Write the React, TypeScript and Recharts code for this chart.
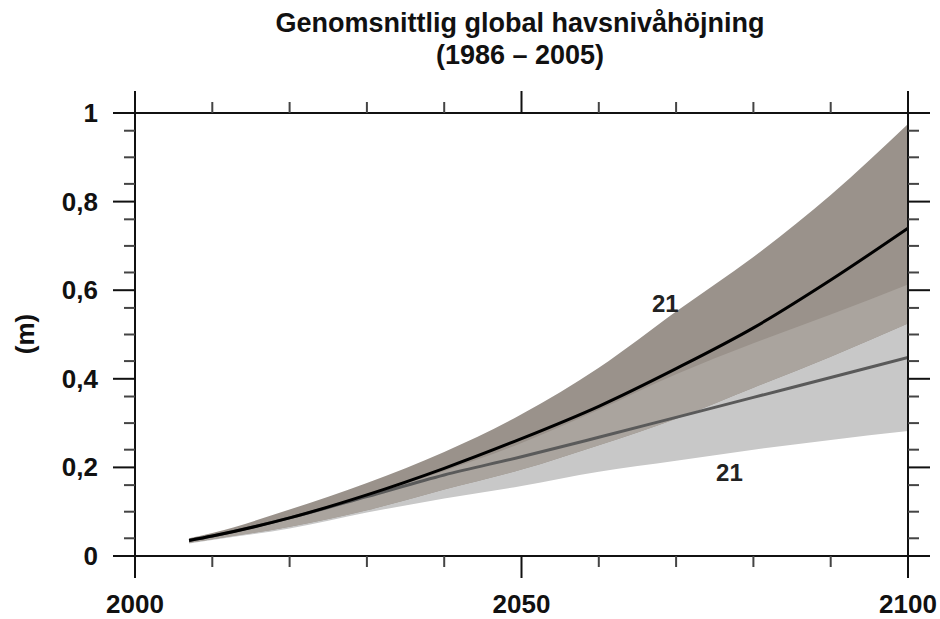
import React from 'react';
import { ComposedChart, Area, Line, XAxis, YAxis, ReferenceDot } from 'recharts';

// years and projected sea level rise (m), relative to 1986-2005
const years = [2007, 2010, 2020, 2030, 2040, 2050, 2060, 2070, 2080, 2090, 2100];
const rcp85Mean = [0.035, 0.045, 0.086, 0.138, 0.198, 0.265, 0.338, 0.423, 0.515, 0.623, 0.74];
const rcp85High = [0.04, 0.052, 0.105, 0.165, 0.235, 0.32, 0.425, 0.552, 0.675, 0.815, 0.975];
const rcp85Low = [0.03, 0.038, 0.066, 0.103, 0.15, 0.195, 0.25, 0.31, 0.38, 0.45, 0.525];
const rcp26Mean = [0.035, 0.045, 0.086, 0.134, 0.183, 0.224, 0.268, 0.313, 0.358, 0.403, 0.448];
const rcp26High = [0.038, 0.046, 0.085, 0.136, 0.192, 0.255, 0.33, 0.41, 0.48, 0.545, 0.613];
const rcp26Low = [0.028, 0.036, 0.062, 0.098, 0.13, 0.158, 0.19, 0.215, 0.24, 0.262, 0.282];

const xTicks = [2000, 2010, 2020, 2030, 2040, 2050, 2060, 2070, 2080, 2090, 2100];
const xLabels = [2000, 2050, 2100];
const yTicks = [0, 0.04, 0.1, 0.16, 0.2, 0.24, 0.3, 0.36, 0.4, 0.44, 0.5, 0.56, 0.6, 0.64, 0.7, 0.76, 0.8, 0.84, 0.9, 0.96, 1];
const yLabels = [0, 0.2, 0.4, 0.6, 0.8, 1];

const labelYears = [2068.6, 2076.9];
const labelValues = [0.571, 0.188];
const labelTexts = ['21', '21'];

// overlap of the two ranges is drawn in its own, lighter tone
const data = years.map((year, i) => ({
    year,
    rcp85: [rcp85Low[i], rcp85High[i]],
    rcp26: [rcp26Low[i], rcp26High[i]],
    both: [Math.max(rcp85Low[i], rcp26Low[i]), Math.min(rcp85High[i], rcp26High[i])],
    mean85: rcp85Mean[i],
    mean26: rcp26Mean[i]
}));

const font = '"Liberation Sans", Arial, Helvetica, sans-serif';
const axisColor = '#111';
const minorColor = '#444';
const MAJOR = 22;
const MINOR = 11;

const isMajorX = (v: number) => xLabels.includes(v);
const isMajorY = (v: number) => yLabels.some(l => Math.abs(l - v) < 1e-6);
const fmtY = (v: number) => String(v).replace('.', ',');

const BottomTick = (props: any) => {
    const { x, y, payload } = props;
    const major = isMajorX(payload.value);
    return (
        <g>
            <line x1={x} x2={x} y1={y} y2={y + (major ? MAJOR : MINOR)} stroke={major ? axisColor : minorColor} strokeWidth={2} />
            {major && (
                <text x={x} y={y + 57} textAnchor="middle" fontFamily={font} fontWeight="bold" fontSize={26} fill="#111">
                    {payload.value}
                </text>
            )}
        </g>
    );
};

const TopTick = (props: any) => {
    const { x, y, payload } = props;
    const major = isMajorX(payload.value);
    return <line x1={x} x2={x} y1={y} y2={y - (major ? MAJOR : MINOR)} stroke={major ? axisColor : minorColor} strokeWidth={2} />;
};

const LeftTick = (props: any) => {
    const { x, y, payload } = props;
    const major = isMajorY(payload.value);
    return (
        <g>
            <line x1={x} x2={x - (major ? MAJOR : MINOR)} y1={y} y2={y} stroke={major ? axisColor : minorColor} strokeWidth={2} />
            {major && (
                <text x={x - 37} y={y + 9} textAnchor="end" fontFamily={font} fontWeight="bold" fontSize={26} fill="#111">
                    {fmtY(payload.value)}
                </text>
            )}
        </g>
    );
};

const RightTick = (props: any) => {
    const { x, y, payload } = props;
    const major = isMajorY(payload.value);
    return <line x1={x} x2={x + (major ? MAJOR : MINOR)} y1={y} y2={y} stroke={major ? axisColor : minorColor} strokeWidth={2} />;
};

export default function App() {
    return (
        <div style={{ position: 'absolute', left: 0, top: 0, width: 940, height: 619, background: '#fff', fontFamily: font }}>
            <div
                style={{
                    position: 'absolute',
                    left: 0,
                    top: 7,
                    width: 1040,
                    textAlign: 'center',
                    fontWeight: 'bold',
                    fontSize: 27,
                    lineHeight: '32px',
                    color: '#111'
                }}
            >
                Genomsnittlig global havsnivåhöjning
                <br />
                (1986 – 2005)
            </div>
            <div
                style={{
                    position: 'absolute',
                    left: 25,
                    top: 334,
                    transform: 'translate(-50%, -50%) rotate(-90deg)',
                    fontWeight: 'bold',
                    fontSize: 26,
                    color: '#111',
                    whiteSpace: 'nowrap'
                }}
            >
                (m)
            </div>
            <ComposedChart
                width={940}
                height={619}
                data={data}
                margin={{ top: 93, right: 12, bottom: 23, left: 35 }}
                style={{ position: 'absolute', left: 0, top: 0 }}
            >
                <XAxis
                    dataKey="year"
                    type="number"
                    domain={[2000, 2100]}
                    allowDataOverflow
                    ticks={xTicks}
                    interval={0}
                    height={40}
                    tickSize={0}
                    tickMargin={0}
                    tickLine={false}
                    axisLine={{ stroke: axisColor, strokeWidth: 2 }}
                    tick={BottomTick}
                />
                <XAxis
                    xAxisId="top"
                    orientation="top"
                    dataKey="year"
                    type="number"
                    domain={[2000, 2100]}
                    allowDataOverflow
                    ticks={xTicks}
                    interval={0}
                    height={20}
                    tickSize={0}
                    tickMargin={0}
                    tickLine={false}
                    axisLine={{ stroke: axisColor, strokeWidth: 2 }}
                    tick={TopTick}
                />
                <YAxis
                    type="number"
                    domain={[0, 1]}
                    allowDataOverflow
                    ticks={yTicks}
                    interval={0}
                    width={100}
                    tickSize={0}
                    tickMargin={0}
                    tickLine={false}
                    axisLine={{ stroke: axisColor, strokeWidth: 2 }}
                    tick={LeftTick}
                />
                <YAxis
                    yAxisId="right"
                    orientation="right"
                    type="number"
                    domain={[0, 1]}
                    allowDataOverflow
                    ticks={yTicks}
                    interval={0}
                    width={20}
                    tickSize={0}
                    tickMargin={0}
                    tickLine={false}
                    axisLine={{ stroke: axisColor, strokeWidth: 2 }}
                    tick={RightTick}
                />
                <Area type="monotone" dataKey="rcp26" stroke="none" fill="#c8c8c8" fillOpacity={1} isAnimationActive={false} />
                <Area type="monotone" dataKey="rcp85" stroke="none" fill="#9a928b" fillOpacity={1} isAnimationActive={false} />
                <Area type="monotone" dataKey="both" stroke="none" fill="#aaa49e" fillOpacity={1} isAnimationActive={false} />
                <Line
                    type="monotone"
                    dataKey="mean26"
                    stroke="#5a5a5a"
                    strokeWidth={3}
                    dot={false}
                    isAnimationActive={false}
                />
                <Line
                    type="monotone"
                    dataKey="mean85"
                    stroke="#000"
                    strokeWidth={3}
                    dot={false}
                    isAnimationActive={false}
                />
                {labelYears.map((yr, i) => (
                    <ReferenceDot
                        key={i}
                        x={yr}
                        y={labelValues[i]}
                        r={0}
                        fill="none"
                        stroke="none"
                        label={{ value: labelTexts[i], position: 'center', fill: '#222', fontSize: 24, fontWeight: 'bold', fontFamily: font }}
                    />
                ))}
            </ComposedChart>
        </div>
    );
}
